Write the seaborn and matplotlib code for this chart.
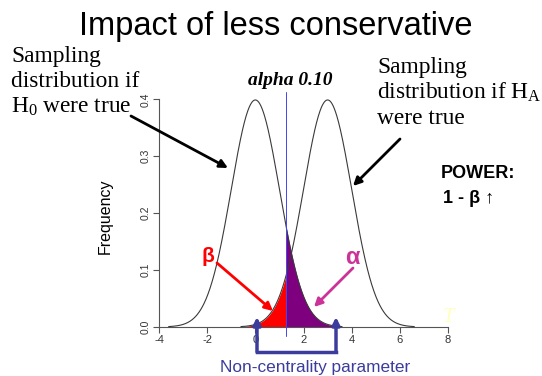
import numpy as np
import pandas as pd
import matplotlib
matplotlib.use("Agg")
import matplotlib.pyplot as plt
import seaborn as sns
from matplotlib.lines import Line2D

# ---- data ----
h0_mean = 0.0          # null sampling distribution centre
ha_mean = 3.0          # alternative sampling distribution centre
sd = 1.0
crit = 1.28            # one-tailed critical value, alpha = 0.10
h0_range = [-3.6, 3.6]
ha_range = [-0.6, 6.6]
x_ticks = [-4, -2, 0, 2, 4, 6, 8]
y_ticks = [0.0, 0.1, 0.2, 0.3, 0.4]
x_tick_labels = ["-4", "-2", "0", "2", "4", "6", "8"]
y_tick_labels = ["0.0", "0.1", "0.2", "0.3", "0.4"]


def npdf(x, m, s):
    return np.exp(-0.5 * ((x - m) / s) ** 2) / (s * np.sqrt(2 * np.pi))


xa = np.linspace(h0_range[0], h0_range[1], 400)
xb = np.linspace(ha_range[0], ha_range[1], 400)
df = pd.concat([
    pd.DataFrame({"T": xa, "Frequency": npdf(xa, h0_mean, sd), "dist": "H0"}),
    pd.DataFrame({"T": xb, "Frequency": npdf(xb, ha_mean, sd), "dist": "HA"}),
])

sns.set_style("white")
plt.rcParams["font.family"] = ["Liberation Sans", "DejaVu Sans"]
plt.rcParams["text.color"] = "black"
plt.rcParams["mathtext.fontset"] = "custom"
plt.rcParams["mathtext.rm"] = "Liberation Serif"
plt.rcParams["mathtext.it"] = "Liberation Serif:italic"

W, H = 542, 376
fig = plt.figure(figsize=(W / 100, H / 100), dpi=100)
ax = fig.add_axes([0.27114, 0.0851, 0.5777, 0.7112])
ax.set_xlim(-4.5, 8.5)
ax.set_ylim(-0.03, 0.44)

# shaded areas
beta_mask = (xb <= crit)
ax.fill_between(xb[beta_mask], 0, npdf(xb[beta_mask], ha_mean, sd), color="#ff0000", lw=0, zorder=2)
xs = np.linspace(crit, h0_range[1], 200)
ax.fill_between(xs, 0, npdf(xs, h0_mean, sd), color="#7f007f", lw=0, zorder=2)

sns.lineplot(data=df, x="T", y="Frequency", units="dist", estimator=None,
             color="#3a3a3a", lw=0.8, ax=ax, legend=False, zorder=3)

ax.plot([crit, crit], [-0.016, 0.413], color="#4444ee", lw=0.7, zorder=4)

# R-style axes
sns.despine(ax=ax)
ax.spines["left"].set_position(("data", -4))
ax.spines["bottom"].set_position(("data", 0))
ax.spines["left"].set_bounds(0, 0.4)
ax.spines["bottom"].set_bounds(-4, 8)
for s in ["left", "bottom"]:
    ax.spines[s].set_color("#555555")
    ax.spines[s].set_linewidth(0.8)
ax.set_xticks(x_ticks)
ax.set_xticklabels(x_tick_labels, fontsize=8, color="#333333")
ax.set_yticks(y_ticks)
ax.set_yticklabels(y_tick_labels, fontsize=7.5, color="#333333", rotation=90, va="center")
ax.tick_params(axis="both", direction="out", length=4, width=0.8, color="#555555", pad=2,
               bottom=True, left=True)
ax.set_xlabel("")
ax.set_ylabel("")
ax.patch.set_alpha(0)


def fx(x):
    return x / W


def fy(y):
    return 1 - y / H


def P(x, y):
    return (x, H - y)


serif = ["Liberation Serif", "DejaVu Serif"]
sans = ["Liberation Sans", "DejaVu Sans"]

fig.text(fx(276), fy(35), "Impact of less conservative", ha="center", va="baseline",
         fontsize=23.5, family=sans, color="black")

for txt, y in [("Sampling", 62), ("distribution if", 87), (r"H$_0$ were true", 113)]:
    fig.text(fx(11), fy(y), txt, ha="left", va="baseline", fontsize=16.8, family=serif,
             color="black")
for txt, y in [("Sampling", 73), (r"distribution if H$_\mathrm{A}$", 99), ("were true", 124)]:
    fig.text(fx(377), fy(y), txt, ha="left", va="baseline", fontsize=16.8, family=serif,
             color="black")

fig.text(fx(290), fy(85), "alpha 0.10", ha="center", va="baseline", fontsize=14,
         family=serif, weight="bold", style="italic", color="black")

fig.text(fx(105), fy(216), "Frequency", ha="center", va="center", rotation=90,
         fontsize=11.5, family=sans, color="black")

fig.text(fx(478), fy(178), "POWER:", ha="center", va="baseline", fontsize=13,
         family=sans, weight="bold", color="black")
fig.text(fx(443), fy(203), "1 - β ↑", ha="left", va="baseline", fontsize=13,
         family=sans, weight="bold", color="black")

fig.text(fx(208), fy(256), "β", ha="center", va="center", fontsize=15,
         family=sans, weight="bold", color="#ff0000")
fig.text(fx(352), fy(257), "α", ha="center", va="center", fontsize=17,
         family=sans, weight="bold", color="#cc3399")

fig.text(fx(315), fy(372), "Non-centrality parameter", ha="center", va="baseline",
         fontsize=12.4, family=sans, color="#3c3c9c")

fig.text(fx(448), fy(318), "T", ha="center", va="center", fontsize=15,
         family=serif, style="italic", color="#ffffc0")

# annotation arrows
def arrow(x0, y0, x1, y1, color, lw=2.0, ms=12):
    fig.add_artist(matplotlib.patches.FancyArrowPatch(
        P(x0, y0), P(x1, y1), transform=None, arrowstyle="-|>",
        mutation_scale=ms, lw=lw, color=color, shrinkA=0, shrinkB=0))

arrow(131, 116, 228, 168, "black")
arrow(400, 139, 353, 186, "black")
arrow(217, 263, 273, 311, "#ff0000")
arrow(353, 268, 314, 307, "#cc3399")

bc = "#3c3c9c"
fig.add_artist(Line2D([fx(257), fx(336)], [fy(352), fy(352)], transform=fig.transFigure,
                      color=bc, lw=2.5, solid_capstyle="projecting"))
arrow(257, 352, 257, 317, bc, lw=2.5, ms=11)
arrow(336, 352, 336, 317, bc, lw=2.5, ms=11)

fig.savefig("out.png", dpi=100)
